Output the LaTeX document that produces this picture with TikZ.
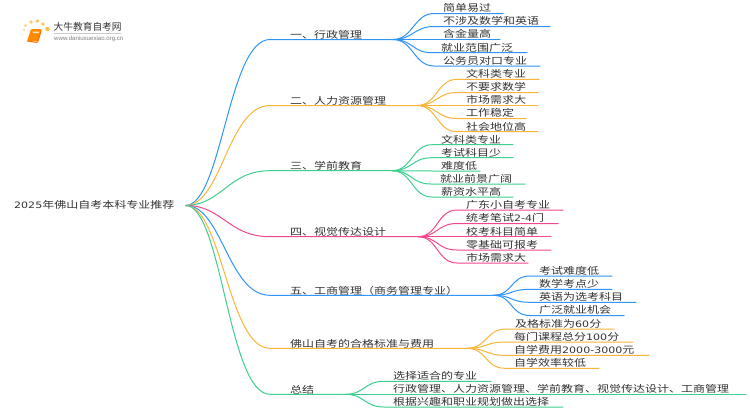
\documentclass[tikz,border=0pt]{standalone}
\usepackage{fontspec}
\setmainfont{Noto Sans CJK SC}
\newfontfamily\urlfont{Liberation Sans}
\newfontfamily\digitfont[Scale=0.92]{DejaVu Sans}
\definecolor{cblue}{HTML}{2F95F7}
\definecolor{corange}{HTML}{F9B53A}
\definecolor{cgreen}{HTML}{3DCF8E}
\definecolor{cpink}{HTML}{F2478F}
\definecolor{ctext}{HTML}{333333}
\tikzset{
  lbl/.style={anchor=west,inner sep=0pt,font=\fontsize{12}{13}\selectfont,text=ctext,yscale=.8,transform shape},
  link/.style={line width=1pt,line cap=round},
}
\newcommand{\dg}[1]{{\digitfont #1}}
% \branch{name}{colour}{bend x}{y}{junction x}{label x}{text}
\newcommand{\branch}[7]{%
  \coordinate (#1b) at (#3,#4);
  \coordinate (#1j) at (#5,#4);
  \node[lbl] (#1t) at (#6,#4-4.8) {#7};
  \draw[link,#2] (root.east) ++(11,0.5)
     .. controls (#3-48,205) and (#3-42,#4) .. (#1b) -- (#1j);
}
% \leafnode{branch}{id}{colour}{text x}{y}{end x}{text}
\newcommand{\leafnode}[7]{%
  \coordinate (#1#2s) at (#4-9,#5);
  \coordinate (#1#2e) at (#6,#5);
  \node[lbl] (#1#2t) at (#4,#5-5.3) {#7};
  \draw[link,#3] (#1j) .. controls ([xshift=20pt]#1j) and ([xshift=-20pt]#1#2s) .. (#1#2s) -- (#1#2e);
}
\begin{document}
\begin{tikzpicture}[x=1pt,y=-1pt]
\useasboundingbox (0,0) rectangle (750,410);
\fill[white] (0,0) rectangle (750,410);
% logo
\foreach \a/\b/\r/\o in {24/30/1.3/.45,22/34.5/1.2/.3,24/43/1/.2,25.5/25.5/1.6/.6,31/22/1.8/.7,37.5/21/1.9/.8,43/24/1.9/.8,47.5/29/2.2/.9}
  \fill[corange,opacity=\o] (\a,\b) circle (\r);
\fill[orange!90!yellow,rounded corners=1pt] (31,29) -- (42,29) -- (38.5,41) -- (27,41) -- cycle;
\draw[orange!85!red,line width=1pt,rounded corners=1pt] (27,41) -- (37.5,42.5) -- (41,31);
\fill[white,opacity=.75] (33,31.5) -- (39.5,31.5) -- (39,33) -- (32.5,33) -- cycle;
\node[inner sep=0pt,anchor=west,text=ctext,font=\fontsize{9.7}{10}\selectfont] (logotext) at (53.5,27) {大牛教育自考网};
\draw[gray!40,line width=.5pt] (54,33.5) -- (121,33.5);
\node[inner sep=0pt,anchor=west,text=gray,font=\urlfont\fontsize{6.1}{7}\selectfont] (logourl) at (54,38.6) {www.daniuxuexiao.org.cn};
% root
\node[lbl] (root) at (14,205) {\dg{2025}年佛山自考本科专业推荐};
% 1
\branch{a}{cblue}{270}{39.5}{393}{290}{一、行政管理}
\leafnode{a}{1}{cblue}{443}{13.5}{503}{简单易过}
\leafnode{a}{2}{cblue}{443}{26.5}{550}{不涉及数学和英语}
\leafnode{a}{3}{cblue}{443}{39.5}{500}{含金量高}
\leafnode{a}{4}{cblue}{441}{52.7}{527}{就业范围广泛}
\leafnode{a}{5}{cblue}{443}{66}{540}{公务员对口专业}
% 2
\branch{b}{corange}{270}{105.5}{417}{290}{二、人力资源管理}
\leafnode{b}{1}{corange}{466}{79.3}{539}{文科类专业}
\leafnode{b}{2}{corange}{466}{92.5}{538}{不要求数学}
\leafnode{b}{3}{corange}{466}{105.5}{538}{市场需求大}
\leafnode{b}{4}{corange}{466}{118.5}{526}{工作稳定}
\leafnode{b}{5}{corange}{466}{131.7}{538}{社会地位高}
% 3
\branch{c}{cgreen}{270}{170.7}{392}{290}{三、学前教育}
\leafnode{c}{1}{cgreen}{441}{144.7}{513}{文科类专业}
\leafnode{c}{2}{cgreen}{441}{157.7}{513}{考试科目少}
\leafnode{c}{3}{cgreen}{441}{171}{480}{难度低}
\leafnode{c}{4}{cgreen}{440}{184}{525}{就业前景广阔}
\leafnode{c}{5}{cgreen}{441}{197}{513}{薪资水平高}
% 4
\branch{d}{cpink}{270}{236.7}{418}{290}{四、视觉传达设计}
\leafnode{d}{1}{cpink}{466}{210}{563}{广东小自考专业}
\leafnode{d}{2}{cpink}{466}{223.5}{558}{统考笔试\dg{2-4}门}
\leafnode{d}{3}{cpink}{466}{236.7}{551}{校考科目简单}
\leafnode{d}{4}{cpink}{466}{250}{551}{零基础可报考}
\leafnode{d}{5}{cpink}{466}{263}{528}{市场需求大}
% 5
\branch{e}{cblue}{270}{295.3}{493}{290}{五、工商管理（商务管理专业）}
\leafnode{e}{1}{cblue}{539}{276}{612}{考试难度低}
\leafnode{e}{2}{cblue}{539}{289.3}{612}{数学考点少}
\leafnode{e}{3}{cblue}{539}{302.3}{636}{英语为选考科目}
\leafnode{e}{4}{cblue}{539}{315.5}{624}{广泛就业机会}
% 6
\branch{f}{corange}{270}{348.3}{467}{290}{佛山自考的合格标准与费用}
\leafnode{f}{1}{corange}{515}{329}{614}{及格标准为\dg{60}分}
\leafnode{f}{2}{corange}{514}{342}{633}{每门课程总分\dg{100}分}
\leafnode{f}{3}{corange}{514}{355.3}{649}{自学费用\dg{2000-3000}元}
\leafnode{f}{4}{corange}{514}{368.3}{599}{自学效率较低}
% 7
\branch{g}{cgreen}{270}{394.3}{345}{290}{总结}
\leafnode{g}{1}{cgreen}{393}{381.3}{491}{选择适合的专业}
\leafnode{g}{2}{cgreen}{393}{394.3}{746}{行政管理、人力资源管理、学前教育、视觉传达设计、工商管理}
\leafnode{g}{3}{cgreen}{393}{407}{563}{根据兴趣和职业规划做出选择}
\end{tikzpicture}
\end{document}
